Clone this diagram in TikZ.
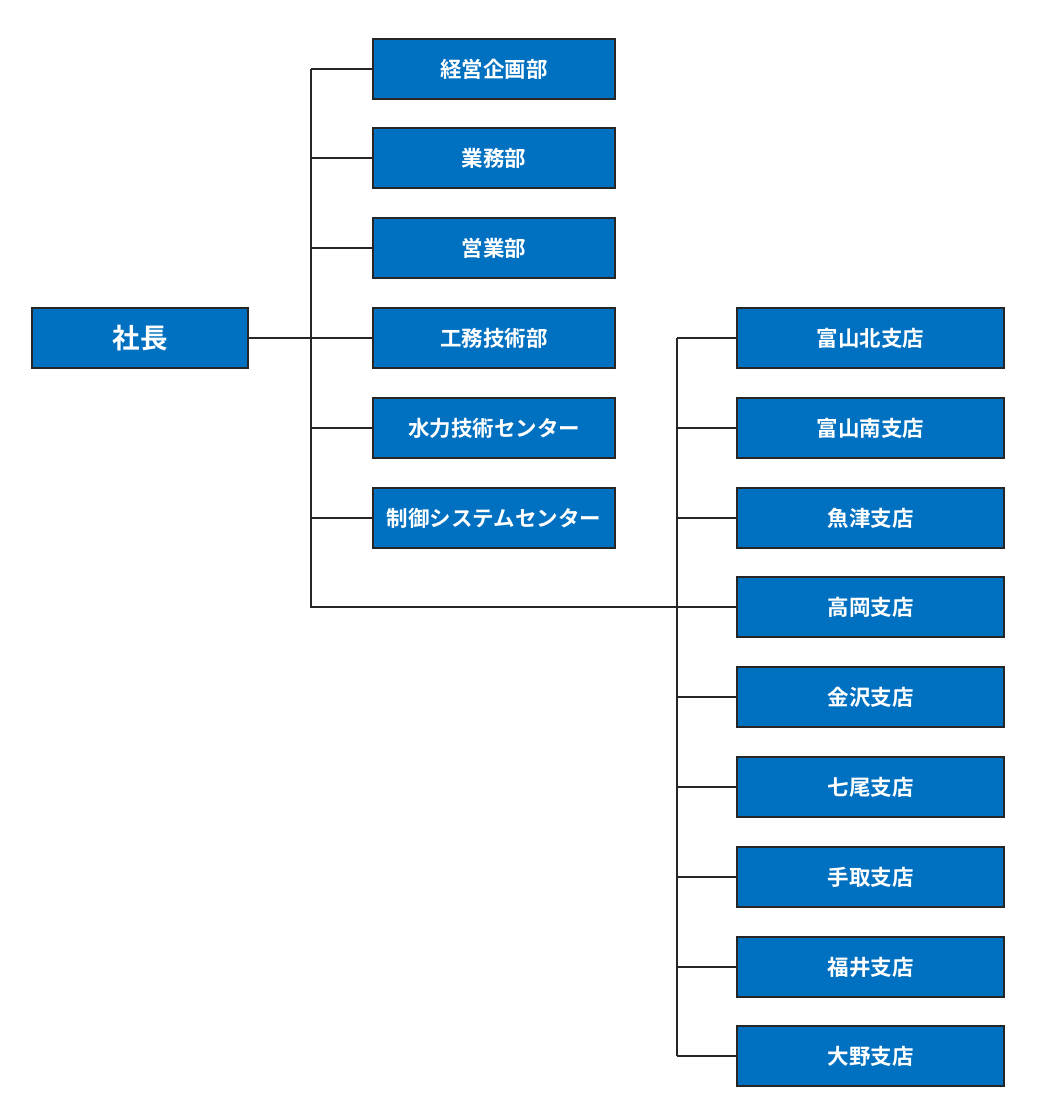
\documentclass[tikz,border=0pt]{standalone}
\usepackage{fontspec}
\setmainfont{Noto Sans CJK JP}[BoldFont={Noto Sans CJK JP Bold}]
\begin{document}
\begin{tikzpicture}[x=1pt,y=-1pt,
  orgbox/.style={draw=black!85,line width=1.2pt,fill={rgb,255:red,0;green,112;blue,192},
    text=white,font=\bfseries\fontsize{21.5}{24}\selectfont,minimum height=60pt,inner sep=0pt,anchor=center},
  midbox/.style={orgbox,minimum width=242pt},
  rightbox/.style={orgbox,minimum width=267pt},
  link/.style={draw=black!85,line width=1.2pt}]
\useasboundingbox (0,0) rectangle (1044,1109);
\node[orgbox,minimum width=216pt,font=\bfseries\fontsize{27.5}{30}\selectfont] (ceo) at (140,338) {社長};
\node[midbox] (m1) at (494,69) {経営企画部};
\node[midbox] (m2) at (494,158) {業務部};
\node[midbox] (m3) at (494,248) {営業部};
\node[midbox] (m4) at (494,338) {工務技術部};
\node[midbox] (m5) at (494,428) {水力技術センター};
\node[midbox] (m6) at (494,518) {制御システムセンター};
\node[rightbox] (r1) at (870.5,338) {富山北支店};
\node[rightbox] (r2) at (870.5,428) {富山南支店};
\node[rightbox] (r3) at (870.5,518) {魚津支店};
\node[rightbox] (r4) at (870.5,607) {高岡支店};
\node[rightbox] (r5) at (870.5,697) {金沢支店};
\node[rightbox] (r6) at (870.5,787) {七尾支店};
\node[rightbox] (r7) at (870.5,877) {手取支店};
\node[rightbox] (r8) at (870.5,967) {福井支店};
\node[rightbox] (r9) at (870.5,1056) {大野支店};
\coordinate (ltop) at (311,69);
\coordinate (lbot) at (311,607);
\coordinate (rtop) at (677,338);
\coordinate (rbot) at (677,1056);
\path[link] (ceo.east) -- (m4.west);
\path[link] (ltop) -- (lbot) -- (r4.west);
\foreach \i in {1,...,6} \path[link] (311,0 |- m\i.west) -- (m\i.west);
\path[link] (rtop) -- (rbot);
\foreach \i in {1,2,3,5,6,7,8,9} \path[link] (677,0 |- r\i.west) -- (r\i.west);
\end{tikzpicture}
\end{document}
